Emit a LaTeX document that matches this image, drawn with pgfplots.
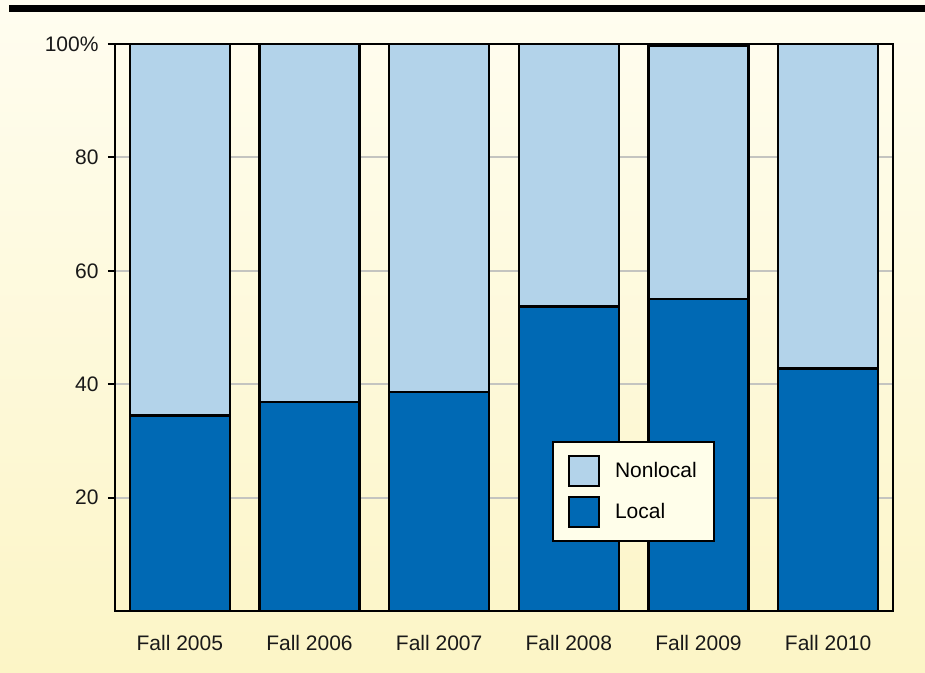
\documentclass[border=0pt]{standalone}
\usepackage{pgfplots}
\pgfplotsset{compat=1.18}
\usepackage{fontspec}
\setmainfont{Liberation Sans}
\definecolor{localc}{HTML}{0069B4}
\definecolor{nonlocalc}{HTML}{B3D3EA}
\definecolor{bgtop}{HTML}{FFFDF0}
\definecolor{bgbot}{HTML}{FCF5C6}
\definecolor{legbg}{HTML}{FFFEEA}
\definecolor{gridc}{HTML}{C4C4C0}
\begin{document}
\begin{tikzpicture}
\shade[top color=bgtop, bottom color=bgbot] (0pt,0pt) rectangle (925pt,672pt);
\fill[black] (9pt,660pt) rectangle (925pt,667pt);
\begin{axis}[
  at={(115pt,61pt)}, anchor=south west,
  scale only axis, width=778pt, height=567pt,
  ybar stacked, bar width=100pt,
  xmin=-0.5, xmax=5.5, ymin=0, ymax=100,
  xtick={0,1,2,3,4,5},
  xticklabels={Fall 2005,Fall 2006,Fall 2007,Fall 2008,Fall 2009,Fall 2010},
  ytick={20,40,60,80,100}, yticklabels={20,40,60,80,100\%},
  ytick pos=left,
  /pgf/number format/assume math mode=true,
  ymajorgrids, major grid style={draw=gridc, line width=2pt},
  axis line style={line width=2.2pt, black},
  tick align=outside, major tick length=7pt,
  ytick style={line width=2pt, black},
  xtick style={draw=none},
  ticklabel style={font=\fontsize{21}{24}\selectfont, text=black!90},
  yticklabel style={xshift=-6pt},
  xticklabel style={yshift=-14pt},
  every axis plot/.append style={draw=black, line width=2.4pt},
  reverse legend,
  legend style={at={(0.5617,0.2998)}, anchor=north west,
    fill=legbg, draw=black, line width=2pt,
    font=\fontsize{21}{24}\selectfont,
    inner xsep=15pt, inner ysep=13pt, row sep=9pt,
    /tikz/every odd column/.append style={column sep=13pt}},
  legend cell align=left,
  legend image code/.code={\draw[#1, draw=black, line width=2pt] (0pt,-15pt) rectangle (30pt,15pt);},
]
\addplot[fill=localc] coordinates {(0,34.5) (1,36.9) (2,38.6) (3,53.7) (4,55.0) (5,42.8)};
\addplot[fill=nonlocalc] coordinates {(0,65.5) (1,63.1) (2,61.4) (3,46.3) (4,44.7) (5,57.2)};
\legend{Local,Nonlocal}
\end{axis}
\end{tikzpicture}
\end{document}
